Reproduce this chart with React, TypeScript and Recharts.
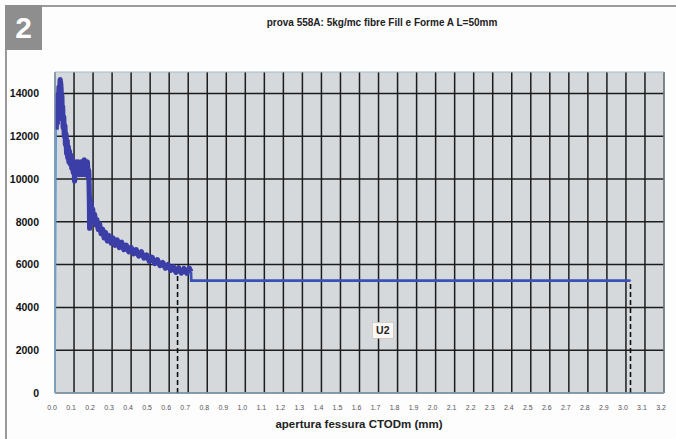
import { ComposedChart, Line, XAxis, YAxis, CartesianGrid, ReferenceLine, ReferenceArea, ReferenceDot } from "recharts";

const TITLE = "prova 558A: 5kg/mc fibre Fill e Forme A L=50mm";
const X_TITLE = "apertura fessura CTODm (mm)";

const xTicks = [
  0, 0.1, 0.2, 0.3, 0.4, 0.5, 0.6, 0.7, 0.8, 0.9, 1.0, 1.1, 1.2, 1.3, 1.4, 1.5, 1.6,
  1.7, 1.8, 1.9, 2.0, 2.1, 2.2, 2.3, 2.4, 2.5, 2.6, 2.7, 2.8, 2.9, 3.0, 3.1, 3.2,
];
const yTicks = [0, 2000, 4000, 6000, 8000, 10000, 12000, 14000];

// initial elastic rise (thin)
const riseX = [0, 0.002, 0.004, 0.006];
const riseY = [0, 4000, 9000, 12300];

// noisy softening branch (thick)
const curveX = [
  0.006, 0.009, 0.012, 0.015, 0.018, 0.021, 0.024, 0.027, 0.03, 0.032, 0.034, 0.036, 0.038, 0.04,
  0.043, 0.046, 0.049, 0.052, 0.055, 0.058, 0.061, 0.064, 0.067, 0.07, 0.073, 0.076, 0.08, 0.084,
  0.088, 0.092, 0.096, 0.1, 0.103, 0.106, 0.11, 0.114, 0.118, 0.122, 0.126, 0.13, 0.134, 0.138,
  0.142, 0.146, 0.15, 0.154, 0.158, 0.162, 0.166, 0.17, 0.174, 0.177, 0.179, 0.181, 0.182, 0.184,
  0.187, 0.19, 0.194, 0.198, 0.203, 0.208, 0.214, 0.22, 0.227, 0.234, 0.242, 0.25, 0.258, 0.266,
  0.275, 0.285, 0.295, 0.305, 0.316, 0.327, 0.338, 0.35, 0.362, 0.375, 0.388, 0.4, 0.413, 0.426,
  0.44, 0.454, 0.468, 0.482, 0.496, 0.51, 0.524, 0.538, 0.552, 0.566, 0.58, 0.594, 0.608, 0.622,
  0.636, 0.65, 0.664, 0.678, 0.692, 0.706, 0.714,
];
const curveY = [
  12300, 13200, 12600, 13900, 13200, 14300, 13900, 14650, 14450, 14200, 13200, 13900, 12800, 13400,
  12400, 12900, 12000, 12500, 11600, 12100, 11200, 11800, 11000, 11500, 10800, 11300, 10700, 11100,
  10500, 10900, 10300, 10800, 9900, 10700, 10200, 10800, 10300, 10800, 10200, 10700, 10300, 10800,
  10200, 10700, 10300, 10900, 10200, 10700, 10300, 10800, 10100, 10400, 9800, 8800, 7700, 9100,
  8500, 8900, 8300, 8600, 8000, 8350, 7850, 8100, 7650, 7900, 7450, 7650, 7250, 7500,
  7100, 7350, 7000, 7250, 6900, 7150, 6800, 7050, 6700, 6900, 6600, 6800, 6500, 6700,
  6400, 6600, 6300, 6450, 6150, 6350, 6050, 6230, 5950, 6100, 5830, 6000, 5730, 5900,
  5640, 5850, 5600, 5820, 5600, 5830, 5660,
];

// residual plateau (thinner)
const tailX = [0.714, 0.716, 3.024];
const tailY = [5660, 5250, 5250];

// dashed markers down to the x axis
const markerX = [0.644, 3.024];
const markerTop = [5700, 5250];

const NOTE = "U2";
const noteAt = { x: 1.72, y: 2930 };

const toRows = (xs: number[], ys: number[]) => xs.map((x, i) => ({ x, y: ys[i] }));

const riseData = toRows(riseX, riseY);
const curveData = toRows(curveX, curveY);
const tailData = toRows(tailX, tailY);

export default function App() {
  return (
    <div style={{ position: "relative", width: 676, height: 439, background: "#fdfdfe", fontFamily: "'Liberation Sans', Arial, sans-serif", overflow: "hidden" }}>
      <style>{"body{margin:0}"}</style>
      {/* frame + badge */}
      <div style={{ position: "absolute", left: 5, top: 5, width: 671, height: 2, background: "#9a9a9a" }} />
      <div style={{ position: "absolute", left: 5, top: 5, width: 2, height: 434, background: "#9a9a9a" }} />
      <div style={{ position: "absolute", left: 5, top: 5, width: 37, height: 45, background: "#8e8e8e", color: "#fff", fontWeight: "bold", fontSize: 30, lineHeight: "45px", textAlign: "center" }}>2</div>
      <div style={{ position: "absolute", left: 0, width: 764, top: 17, textAlign: "center", fontSize: 10, fontWeight: "bold", color: "#222" }}>{TITLE}</div>
      <div style={{ position: "absolute", left: 0, width: 718, top: 418, textAlign: "center", fontSize: 11.5, fontWeight: "bold", color: "#222" }}>{X_TITLE}</div>

      <div style={{ position: "absolute", left: 0, top: 0 }}>
        <ComposedChart width={676} height={439} margin={{ top: 72, right: 12, bottom: 26, left: 8 }}>
          <CartesianGrid fill="#d5d9dc" stroke="#1c1c1c" strokeWidth={1.5} horizontalValues={yTicks} verticalValues={xTicks} />
          <XAxis
            type="number"
            dataKey="x"
            domain={[0, 3.2]}
            ticks={xTicks}
            interval={0}
            height={20}
            tickFormatter={(v: number) => v.toFixed(1)}
            tick={{ fontSize: 7, fill: "#555", dx: -3 }}
            tickLine={false}
            axisLine={{ stroke: "#8fb0c6" }}
            tickMargin={6}
            allowDataOverflow
          />
          <YAxis
            type="number"
            domain={[0, 15000]}
            ticks={yTicks}
            interval={0}
            width={47}
            tick={{ fontSize: 10.5, fill: "#111", fontWeight: "bold" }}
            tickLine={false}
            axisLine={{ stroke: "#8fb0c6" }}
            tickMargin={10}
            allowDataOverflow
          />
          <ReferenceArea x1={0} x2={3.2} y1={0} y2={15000} fill="none" stroke="#a9bac6" strokeWidth={1} />
          {markerX.map((mx, i) => (
            <ReferenceLine
              key={mx}
              segment={[{ x: mx, y: 0 }, { x: mx, y: markerTop[i] }]}
              stroke="#111"
              strokeWidth={1.6}
              strokeDasharray="5 3"
              ifOverflow="visible"
            />
          ))}
          <Line data={riseData} dataKey="y" stroke="#4f93d8" strokeWidth={1.6} dot={false} isAnimationActive={false} />
          <Line data={tailData} dataKey="y" stroke="#3a52b4" strokeWidth={2.8} dot={false} isAnimationActive={false} />
          <Line data={curveData} dataKey="y" stroke="#3b3ea6" strokeWidth={5.2} strokeLinejoin="round" dot={false} isAnimationActive={false} />
          <ReferenceDot
            x={noteAt.x}
            y={noteAt.y}
            r={0}
            shape={(p: any) => (
              <g>
                <rect x={p.cx - 10} y={p.cy - 8} width={21} height={16} fill="#fbf7f4" stroke="#c9b9b0" strokeWidth={0.6} />
                <text x={p.cx + 0.5} y={p.cy + 4} textAnchor="middle" fontSize={10.5} fontWeight="bold" fill="#222">{NOTE}</text>
              </g>
            )}
          />
        </ComposedChart>
      </div>
    </div>
  );
}
